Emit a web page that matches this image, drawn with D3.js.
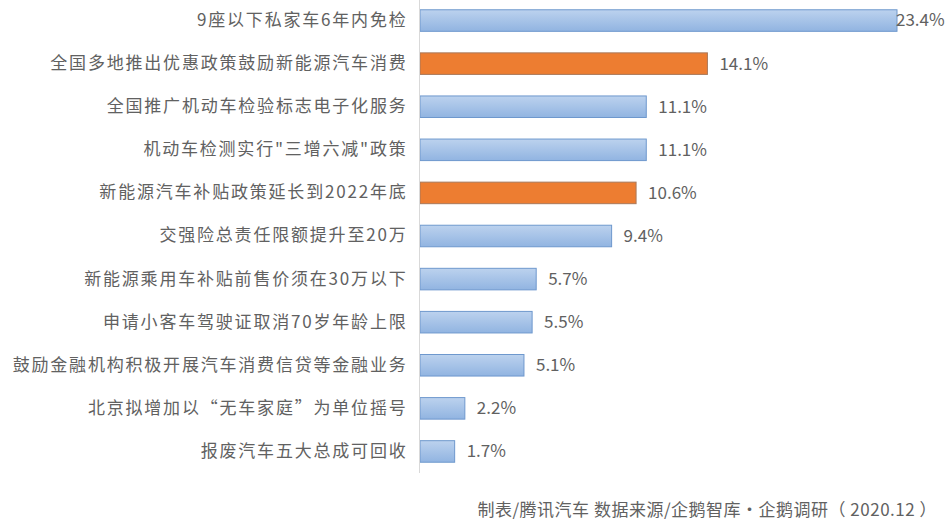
<!DOCTYPE html>
<html><head><meta charset="utf-8">
<script src="https://cdn.jsdelivr.net/npm/d3@7"></script>
<style>
html,body{margin:0;padding:0;background:#fff;}
text{font-family:"Microsoft YaHei","Noto Sans CJK SC",sans-serif;}
</style></head>
<body>
<svg id="chart" width="951" height="524"></svg>
<script>
const categories = [
  "9座以下私家车6年内免检",
  "全国多地推出优惠政策鼓励新能源汽车消费",
  "全国推广机动车检验标志电子化服务",
  "机动车检测实行\"三增六减\"政策",
  "新能源汽车补贴政策延长到2022年底",
  "交强险总责任限额提升至20万",
  "新能源乘用车补贴前售价须在30万以下",
  "申请小客车驾驶证取消70岁年龄上限",
  "鼓励金融机构积极开展汽车消费信贷等金融业务",
  "北京拟增加以“无车家庭”为单位摇号",
  "报废汽车五大总成可回收"
];
const values = [23.4, 14.1, 11.1, 11.1, 10.6, 9.4, 5.7, 5.5, 5.1, 2.2, 1.7];
const highlighted = [false, true, false, false, true, false, false, false, false, false, false];
const footnote = "制表/腾讯汽车 数据来源/企鹅智库·企鹅调研（ 2020.12 ）";

const svg = d3.select("#chart");
const defs = svg.append("defs");
const grad = defs.append("linearGradient").attr("id","blueGrad").attr("x1",0).attr("y1",0).attr("x2",0).attr("y2",1);
grad.append("stop").attr("offset","0%").attr("stop-color","#bcd2ee");
grad.append("stop").attr("offset","100%").attr("stop-color","#91b4e1");

const x = d3.scaleLinear().domain([0, 23.4]).range([420, 897]);
const y = d3.scaleBand().domain(categories).range([-1, 473]).paddingInner(0.5).paddingOuter(0.25);

const data = categories.map((c,i)=>({c, v: values[i], h: highlighted[i]}));

// bars
svg.append("g").selectAll("rect").data(data).join("rect")
  .attr("x", x(0))
  .attr("y", d => y(d.c))
  .attr("width", d => x(d.v) - x(0))
  .attr("height", y.bandwidth())
  .attr("fill", d => d.h ? "#ed7d31" : "url(#blueGrad)")
  .attr("stroke", d => d.h ? "#a9785a" : "#6e98cd")
  .attr("stroke-width", 1);

// axis
const yAxis = d3.axisLeft(y).tickSize(0).tickPadding(12);
const ag = svg.append("g").attr("transform", `translate(${x(0)-0.5},0)`).call(yAxis);
ag.select(".domain").attr("stroke", "#d9d9d9").attr("d", "M0,-1V473");
ag.selectAll("text").attr("fill", "#616161").style("font-size", "17px")
  .style("letter-spacing", "1.8px")
  .style("font-family", "'Microsoft YaHei','Noto Sans CJK SC',sans-serif");

// value labels
svg.append("g").selectAll("text").data(data).join("text")
  .attr("x", d => Math.min(x(d.v) + 12, x(23.4) - 1))
  .attr("y", d => y(d.c) + y.bandwidth()/2)
  .attr("dy", "0.35em")
  .attr("fill", "#616161")
  .style("font-size", "17px")
  .text(d => d.v.toFixed(1) + "%");

// footnote
svg.append("text")
  .attr("x", 937).attr("y", 516)
  .attr("text-anchor", "end")
  .attr("fill", "#616161")
  .style("font-size", "17px")
  .style("letter-spacing", "0.5px")
  .text(footnote);
</script>
</body></html>
